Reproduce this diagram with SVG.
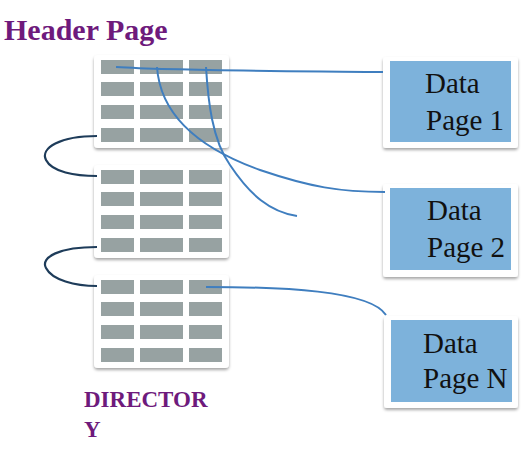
<svg xmlns="http://www.w3.org/2000/svg" width="530" height="462" viewBox="0 0 530 462">
<defs>
<filter id="sh" x="-10%" y="-10%" width="125%" height="130%">
<feDropShadow dx="0" dy="2" stdDeviation="1.5" flood-color="#000" flood-opacity="0.35"/>
</filter>
<style>
text{font-family:'Liberation Serif',serif}
.title{font-weight:bold;fill:#6e1a7c}
.card{fill:#fff;filter:url(#sh)}
.row{fill:#97a2a2}
.sep{fill:#fff}
.blue{fill:#7db2db}
.lbl{font-size:29px;fill:#111}
.lnk{fill:none;stroke:#3f7ebf;stroke-width:2}
.chain{fill:none;stroke:#1e3c5a;stroke-width:2.2}
</style>
<g id="tbl">
<rect class="card" x="0" y="0" width="135" height="93" rx="4"/>
<rect class="row" x="7" y="5" width="121" height="14"/>
<rect class="row" x="7" y="27" width="121" height="14"/>
<rect class="row" x="7" y="50" width="121" height="14"/>
<rect class="row" x="7" y="73" width="121" height="14"/>
<rect class="sep" x="40" y="0" width="6" height="91"/>
<rect class="sep" x="89" y="0" width="6" height="91"/>
</g>
</defs>
<rect width="530" height="462" fill="#fff"/>
<text class="title" x="4" y="40" font-size="30">Header Page</text>
<g id="dir1"><use href="#tbl" x="94" y="55"/></g>
<g id="dir2"><use href="#tbl" x="94" y="165"/></g>
<g id="dir3"><use href="#tbl" x="94" y="275"/></g>
<g id="directory-label">
<text class="title" x="84" y="407" font-size="23">DIRECTOR</text>
<text class="title" x="84" y="437" font-size="23">Y</text>
</g>
<g id="data1">
<rect class="card" x="383" y="57" width="135" height="91" rx="3"/>
<rect class="blue" x="390" y="61" width="121" height="81"/>
<text class="lbl" x="425" y="93">Data</text>
<text class="lbl" x="426" y="130">Page 1</text>
</g>
<g id="data2">
<rect class="card" x="383" y="184" width="135" height="93" rx="3"/>
<rect class="blue" x="390" y="188" width="121" height="82"/>
<text class="lbl" x="427" y="220">Data</text>
<text class="lbl" x="427" y="257">Page 2</text>
</g>
<g id="dataN">
<rect class="card" x="384" y="316" width="134" height="92" rx="3"/>
<rect class="blue" x="391" y="320" width="121" height="82"/>
<text class="lbl" x="423" y="353">Data</text>
<text class="lbl" x="423" y="388">Page N</text>
</g>
<g id="connectors">
<path class="lnk" d="M116,67 C180,71 300,71 383,72"/>
<path class="lnk" d="M157,67 C160,110 190,145 260,170 C310,187 340,192 385,192"/>
<path class="lnk" d="M206,67 C208,100 212,140 230,165 C250,195 270,212 297,216"/>
<path class="lnk" d="M206,287 C280,287 370,290 386,315"/>
<path class="chain" d="M97,136 C60,136 40,148 46,160 C52,172 75,176 97,176"/>
<path class="chain" d="M97,247 C60,247 40,257 46,268 C52,280 75,286 97,286"/>
</g>
</svg>
